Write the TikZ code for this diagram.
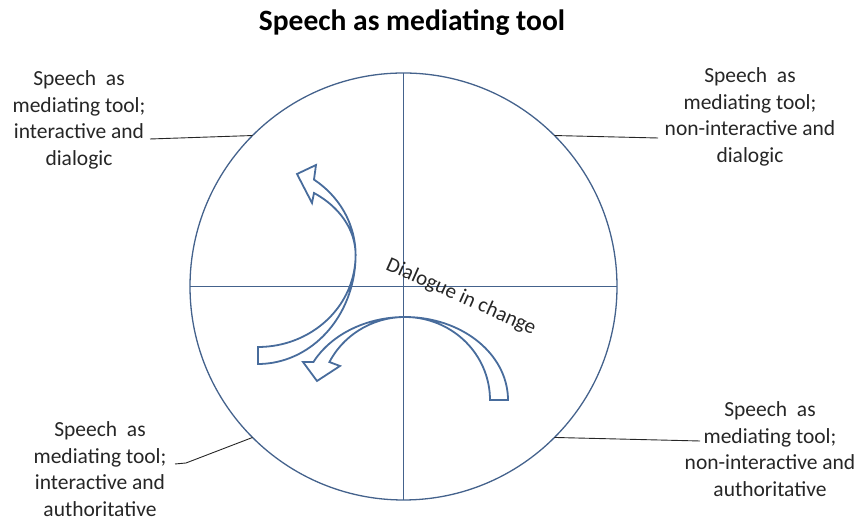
\documentclass[tikz,border=0pt]{standalone}
\usepackage{fontspec}
\setmainfont{Carlito}
\definecolor{circlecol}{RGB}{68,98,140}
\definecolor{arrowcol}{RGB}{72,108,156}
\definecolor{txtcol}{RGB}{38,38,38}
\tikzset{
  labeltext/.style={align=center, text=txtcol, font=\fontsize{21.5}{26.5}\selectfont, inner sep=0pt},
  leader/.style={draw=txtcol, line width=0.9pt},
  crossline/.style={draw=circlecol, line width=1.5pt},
  blockarrow/.style={draw=arrowcol, line width=1.8pt, line join=miter},
}
\begin{document}
\begin{tikzpicture}[x=1pt,y=1pt]
\useasboundingbox (0,0) rectangle (860,521);
% title
\node[font=\bfseries\fontsize{29.5}{35}\selectfont, text=black, inner sep=0pt] (title) at (412,498) {Speech as mediating tool};
% circle
\node[circle, draw=circlecol, line width=1.3pt, minimum size=427pt, inner sep=0pt, outer sep=0pt] (c) at (403.5,234.5) {};
\draw[crossline] (c.north) -- (c.south);
\draw[crossline] (c.west) -- (c.east);
% labels
\node[labeltext] (tl) at (79,401) {Speech\ \ as\\mediating tool;\\interactive and\\dialogic};
\node[labeltext] (tr) at (750,404) {Speech\ \ as\\mediating tool;\\non-interactive and\\dialogic};
\node[labeltext] (bl) at (100,52) {Speech\ \ as\\mediating tool;\\interactive and\\authoritative};
\node[labeltext] (br) at (770,72) {Speech\ \ as\\mediating tool;\\non-interactive and\\authoritative};
% leader lines
\coordinate (tlend) at (150,382);
\coordinate (trend) at (658,383);
\coordinate (blend) at (175,57);
\coordinate (blbend) at (186,58);
\coordinate (brend) at (700,80);
\draw[leader] (tlend) -- (c.135);
\draw[leader] (trend) -- (c.45);
\draw[leader] (blend) -- (blbend) -- (c.225);
\draw[leader] (brend) -- (c.-45);
% centre text
\node[text=txtcol, font=\fontsize{21}{25}\selectfont, rotate=-24, inner sep=0pt] (dlg) at (461,224) {Dialogue in change};
% arrow 1 (upward curved arrow, left)
\draw[blockarrow]
  plot[domain=-55:0, samples=40] ({258+97.6*cos(\x)},{266-92*sin(\x)})
  -- plot[domain=0:90, samples=40] ({258+97.6*cos(\x)},{266-109*sin(\x)})
  -- plot[domain=90:0, samples=40] ({258+97.6*cos(\x)},{266-92*sin(\x)})
  -- plot[domain=0:-55, samples=40] ({258+97.6*cos(\x)},{266-75.7*sin(\x)})
  -- (312,318) -- (297,347) -- (316,356) -- cycle;
% arrow 2 (curved arrow, bottom)
\draw[blockarrow]
  plot[domain=360:207.2, samples=60] ({405+103*cos(\x)},{121-83*sin(\x)})
  -- (303,159) -- (317,140) -- (340,155)
  -- plot[domain=207.2:360, samples=60] ({405+85*cos(\x)},{121-83*sin(\x)})
  -- cycle;
\end{tikzpicture}
\end{document}
